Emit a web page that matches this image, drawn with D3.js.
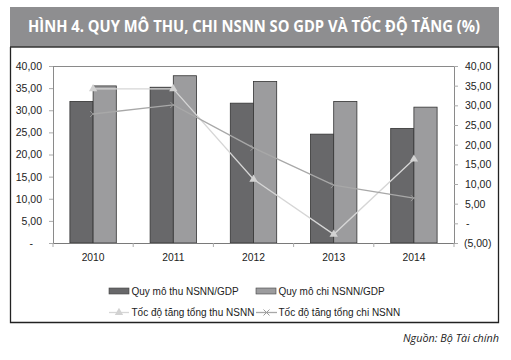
<!DOCTYPE html>
<html>
<head>
<meta charset="utf-8">
<script src="https://cdn.jsdelivr.net/npm/d3@7"></script>
<style>
  html, body { margin: 0; padding: 0; background: #fff; }
  svg { display: block; }
</style>
</head>
<body>
<svg id="chart" width="511" height="360"></svg>
<script>
const years = ["2010", "2011", "2012", "2013", "2014"];
const thuGDP = [32.0, 35.2, 31.6, 24.6, 25.9];
const chiGDP = [35.5, 37.8, 36.5, 32.0, 30.7];
const tocDoThu = [34.2, 34.2, 11.2, -2.8, 16.3];
const tocDoChi = [27.8, 30.1, 19.2, 9.7, 6.4];
const leftTicks = [0, 5, 10, 15, 20, 25, 30, 35, 40];
const rightTicks = [-5, 0, 5, 10, 15, 20, 25, 30, 35, 40];
const titleText = "HÌNH 4. QUY MÔ THU, CHI NSNN SO GDP VÀ TỐC ĐỘ TĂNG (%)";
const sourceText = "Nguồn: Bộ Tài chính";
const seriesNames = ["Quy mô thu NSNN/GDP", "Quy mô chi NSNN/GDP", "Tốc độ tăng tổng thu NSNN", "Tốc độ tăng tổng chi NSNN"];

const svg = d3.select("#chart");
const font = "'Liberation Sans', Arial, sans-serif";

// Banner & frame
svg.append("rect").attr("x", 10).attr("y", 7).attr("width", 489).attr("height", 40).attr("fill", "#8e8e90");
svg.append("text").attr("x", 254).attr("y", 32)
  .attr("text-anchor", "middle")
  .attr("font-family", "'Open Sans', sans-serif").attr("font-weight", "bold").attr("font-size", 15.5)
  .attr("fill", "#fff")
  .attr("textLength", 452).attr("lengthAdjust", "spacingAndGlyphs")
  .text(titleText);
svg.append("path").attr("d", "M10.5,47 V322.5 H498.5 V47").attr("fill", "none").attr("stroke", "#222").attr("stroke-width", 1.3);
svg.append("line").attr("x1", 10).attr("x2", 499).attr("y1", 47).attr("y2", 47).attr("stroke", "#333").attr("stroke-width", 1.3);

// Scales
const L = 53, R = 454, T = 66, B = 243;
const x = d3.scaleBand().domain(years).range([L, R]).paddingInner(0).paddingOuter(0);
const yL = d3.scaleLinear().domain([0, 40]).range([B, T]);
const yR = d3.scaleLinear().domain([-5, 40]).range([B, T]);

const fmt = v => v === 0 ? "-" : (v < 0 ? "(" + d3.format(".2f")(-v).replace(".", ",") + ")" : d3.format(".2f")(v).replace(".", ","));

// plot frame (top, right)
svg.append("path").attr("d", `M${L},${T + 0.5} H${R + 0.5} V${B}`).attr("fill", "none").attr("stroke", "#8a8a8a").attr("stroke-width", 1);

// Bars
const bw = 23.2;
const g = svg.append("g");
g.selectAll(".thu").data(years).join("rect")
  .attr("x", d => x(d) + x.bandwidth() / 2 - bw)
  .attr("y", (d, i) => yL(thuGDP[i]))
  .attr("width", bw)
  .attr("height", (d, i) => yL(0) - yL(thuGDP[i]))
  .attr("fill", "#68686a").attr("stroke", "#333").attr("stroke-width", 0.8);
g.selectAll(".chi").data(years).join("rect")
  .attr("x", d => x(d) + x.bandwidth() / 2)
  .attr("y", (d, i) => yL(chiGDP[i]))
  .attr("width", bw)
  .attr("height", (d, i) => yL(0) - yL(chiGDP[i]))
  .attr("fill", "#9c9c9e").attr("stroke", "#333").attr("stroke-width", 0.8);

// Axes
const leftAxis = d3.axisLeft(yL).tickValues(leftTicks).tickSize(4).tickPadding(7).tickFormat(fmt);
const la = svg.append("g").attr("transform", `translate(${L},0)`).call(leftAxis);
la.select(".domain").attr("stroke", "#8a8a8a");
la.selectAll(".tick line").attr("stroke", "#aaa");
la.selectAll(".tick text").attr("font-family", font).attr("font-size", 10.5).attr("fill", "#222")
  .attr("dx", d => d === 0 ? -9 : 0);

const rightAxis = d3.axisRight(yR).tickValues(rightTicks).tickSize(4).tickPadding(7).tickFormat(fmt);
const ra = svg.append("g").attr("transform", `translate(${R},0)`).call(rightAxis);
ra.select(".domain").remove();
ra.selectAll(".tick line").attr("stroke", "#aaa");
ra.selectAll(".tick text").attr("font-family", font).attr("font-size", 10.5).attr("fill", "#222")
  .attr("dx", d => d === 0 ? 1 : (d < 0 ? -1 : 0));

const bottomAxis = d3.axisBottom(x).tickSize(0).tickPadding(11);
const ba = svg.append("g").attr("transform", `translate(0,${B})`).call(bottomAxis);
ba.select(".domain").attr("stroke", "#7a7a7a").attr("stroke-width", 1.2);
ba.selectAll(".tick text").attr("font-family", font).attr("font-size", 10.3).attr("fill", "#222");
// category separators
svg.append("g").selectAll("line").data(d3.range(years.length + 1)).join("line")
  .attr("x1", i => L + i * x.step()).attr("x2", i => L + i * x.step())
  .attr("y1", B).attr("y2", B + 4).attr("stroke", "#aaa");

// Lines
const cx = d => x(d) + x.bandwidth() / 2;
const lineGen = d3.line().x((d, i) => cx(years[i])).y(d => yR(d));
svg.append("path").datum(tocDoThu).attr("d", lineGen).attr("fill", "none").attr("stroke", "#d6d6d6").attr("stroke-width", 1.3);
svg.append("path").datum(tocDoChi).attr("d", lineGen).attr("fill", "none").attr("stroke", "#a8a8a8").attr("stroke-width", 1.3);

const tri = d3.symbol().type(d3.symbolTriangle).size(30);
svg.append("g").selectAll("path").data(tocDoThu).join("path")
  .attr("d", tri)
  .attr("transform", (d, i) => `translate(${cx(years[i])},${yR(d)})`)
  .attr("fill", "#d2d2d2");
const xs = 3;
svg.append("g").selectAll("path").data(tocDoChi).join("path")
  .attr("d", `M${-xs},${-xs}L${xs},${xs}M${-xs},${xs}L${xs},${-xs}`)
  .attr("transform", (d, i) => `translate(${cx(years[i])},${yR(d)})`)
  .attr("stroke", "#9a9a9a").attr("stroke-width", 1).attr("fill", "none");

// Legend
const lg = svg.append("g").attr("font-family", font).attr("font-size", 10).attr("fill", "#222");
const legendItems = [
  { name: seriesNames[0], type: "bar", fill: "#68686a", x: 109, y: 291 },
  { name: seriesNames[1], type: "bar", fill: "#9c9c9e", x: 256, y: 291 },
  { name: seriesNames[2], type: "thu", x: 109, y: 312.5 },
  { name: seriesNames[3], type: "chi", x: 256, y: 312.5 }
];
legendItems.forEach(it => {
  const gi = lg.append("g");
  if (it.type === "bar") {
    gi.append("rect").attr("x", it.x).attr("y", it.y - 3).attr("width", 20).attr("height", 6)
      .attr("fill", it.fill).attr("stroke", "#444").attr("stroke-width", 0.6);
  } else if (it.type === "thu") {
    gi.append("line").attr("x1", it.x).attr("x2", it.x + 20).attr("y1", it.y).attr("y2", it.y).attr("stroke", "#d6d6d6").attr("stroke-width", 1.3);
    gi.append("path").attr("d", tri).attr("transform", `translate(${it.x + 10},${it.y})`).attr("fill", "#d2d2d2");
  } else {
    gi.append("line").attr("x1", it.x).attr("x2", it.x + 21).attr("y1", it.y).attr("y2", it.y).attr("stroke", "#a8a8a8").attr("stroke-width", 1.3);
    gi.append("path").attr("d", `M${-xs},${-xs}L${xs},${xs}M${-xs},${xs}L${xs},${-xs}`)
      .attr("transform", `translate(${it.x + 10.5},${it.y})`).attr("stroke", "#9a9a9a").attr("fill", "none");
  }
  gi.append("text").attr("x", it.x + 22.5).attr("y", it.y).attr("dy", "0.35em").text(it.name);
});

// Source
svg.append("text").attr("x", 499).attr("y", 342).attr("text-anchor", "end")
  .attr("font-family", "'Open Sans', sans-serif").attr("font-style", "italic").attr("font-size", 11)
  .attr("fill", "#222").attr("textLength", 96).attr("lengthAdjust", "spacingAndGlyphs")
  .text(sourceText);
</script>
</body>
</html>
